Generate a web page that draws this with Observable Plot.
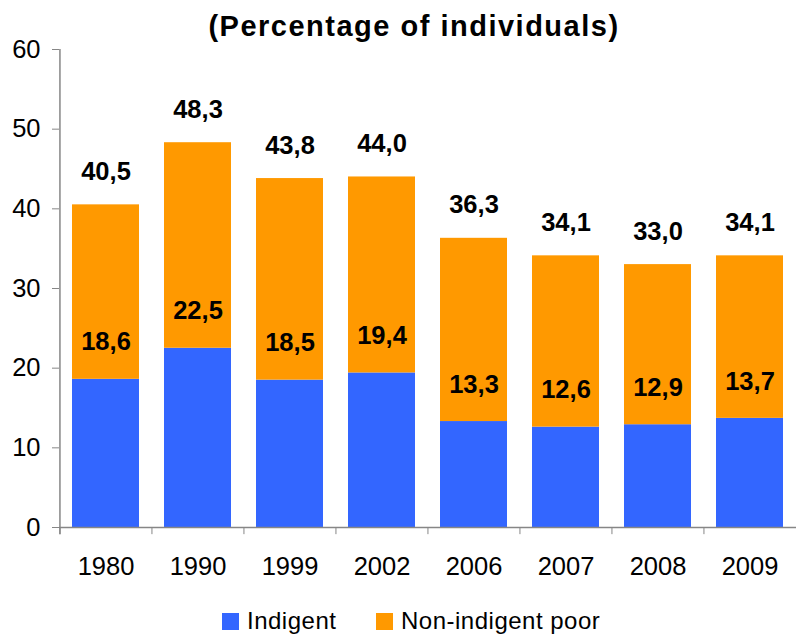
<!DOCTYPE html>
<html>
<head>
<meta charset="utf-8">
<script src="https://cdn.jsdelivr.net/npm/d3@7"></script>
<script src="https://cdn.jsdelivr.net/npm/@observablehq/plot@0.6"></script>
<style>
  html, body { margin: 0; padding: 0; background: #fff; }
  #wrap { position: relative; width: 796px; height: 634px; font-family: "Liberation Sans", Arial, sans-serif; }
  #title { position: absolute; z-index: 2; top: 4px; left: 0; width: 796px; padding-left: 32px; box-sizing: border-box;
           text-align: center; font-weight: bold; font-size: 29px; line-height: 44px; letter-spacing: 1.5px; color: #000; }
  #chart { position: absolute; z-index: 1; top: 37px; left: 0; }
  .leg { position: absolute; top: 612px; display: flex; align-items: center; font-size: 24px; line-height: 18px; color: #000; letter-spacing: 0.5px; }
  .sw { width: 17px; height: 17px; margin-right: 8px; }
</style>
</head>
<body>
<div id="wrap">
  <div id="title">(Percentage of individuals)</div>
  <div id="chart"></div>
  <div class="leg" style="left:222px"><div class="sw" style="background:#3366FF"></div>Indigent</div>
  <div class="leg" style="left:376px"><div class="sw" style="background:#FF9900"></div>Non-indigent poor</div>
</div>
<script>
const years = ["1980", "1990", "1999", "2002", "2006", "2007", "2008", "2009"];
const indigent = [18.6, 22.5, 18.5, 19.4, 13.3, 12.6, 12.9, 13.7];
const totalPoor = [40.5, 48.3, 43.8, 44.0, 36.3, 34.1, 33.0, 34.1];
const seriesNames = ["Indigent", "Non-indigent poor"];
const yTicks = [0, 10, 20, 30, 40, 50, 60];

const rows = [];
years.forEach((y, i) => {
  rows.push({year: y, series: seriesNames[0], y1: 0, y2: indigent[i]});
  rows.push({year: y, series: seriesNames[1], y1: indigent[i], y2: totalPoor[i]});
});
const labels = years.map((y, i) => ({year: y, ind: indigent[i], tot: totalPoor[i]}));
const fmt = v => v.toFixed(1).replace(".", ",");

const W = 796, ML = 59, MR = 0;
const step = (W - ML - MR) / years.length;
const grey = "#868686";

const chart = Plot.plot({
  width: W,
  height: 560,
  marginLeft: ML,
  marginRight: MR,
  marginTop: 12,
  marginBottom: 70,
  style: {fontFamily: "'Liberation Sans', Arial, sans-serif", background: "transparent", overflow: "visible"},
  x: {domain: years, paddingInner: 0.27, paddingOuter: 0.135, axis: null},
  y: {domain: [0, 60], axis: null},
  color: {domain: seriesNames, range: ["#3366FF", "#FF9900"]},
  marks: [
    Plot.rectY(rows, {x: "year", y1: "y1", y2: "y2", fill: "series"}),
    Plot.ruleY([0], {stroke: grey, strokeWidth: 1.5}),
    Plot.ruleX([years[0]], {x: d => d, y1: -0.9, y2: 60, dx: -step / 2, stroke: grey, strokeWidth: 1.5}),
    Plot.ruleX(years, {x: d => d, y1: 0, y2: -0.9, dx: -step / 2, stroke: grey, strokeWidth: 1}),
    Plot.axisY({ticks: yTicks, tickSize: 7, tickPadding: 12, fontSize: 25.5, stroke: grey, fill: "#000", anchor: "left", label: null}),
    Plot.axisX({tickSize: 0, tickPadding: 29, fontSize: 25.5, fill: "#000", anchor: "bottom", label: null}),
    Plot.text(labels, {x: "year", y: "ind", text: d => fmt(d.ind), dy: -37, fontSize: 25.5, fontWeight: "bold", fill: "#000"}),
    Plot.text(labels, {x: "year", y: "tot", text: d => fmt(d.tot), dy: -33, fontSize: 25.5, fontWeight: "bold", fill: "#000"})
  ]
});
document.getElementById("chart").appendChild(chart);
</script>
</body>
</html>
